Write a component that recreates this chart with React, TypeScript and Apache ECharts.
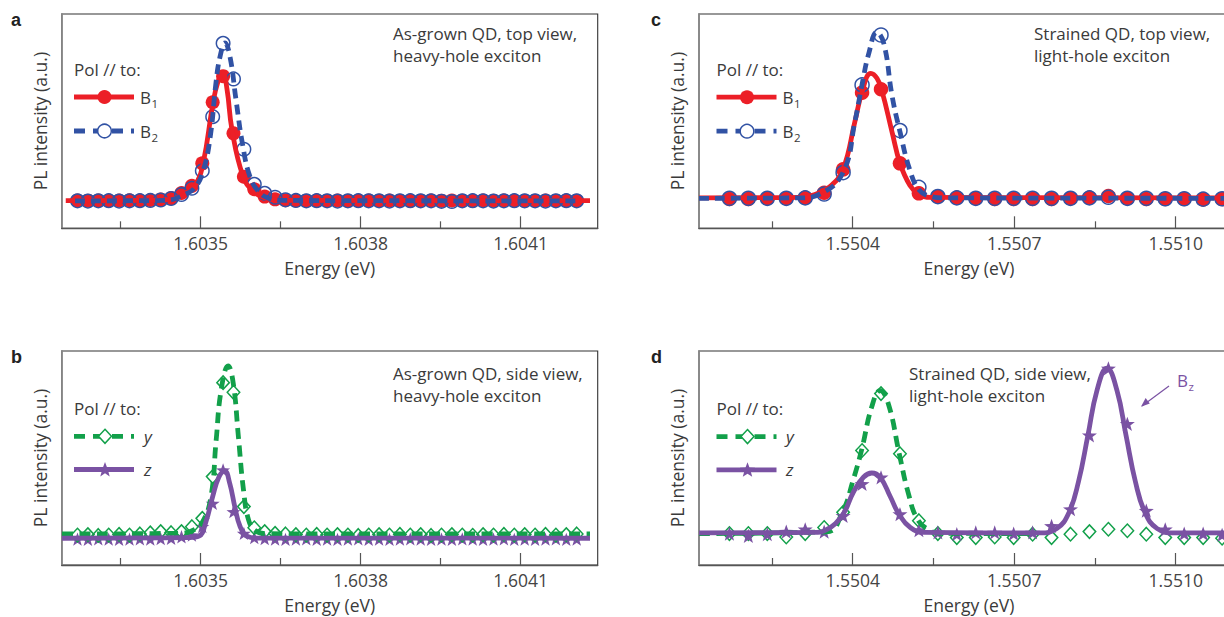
import React, { useEffect, useRef } from "react";
import * as echarts from "echarts";

// ---------- DATA ----------
const energyAB = [
  1.603269, 1.6032885, 1.603308, 1.6033275, 1.603347, 1.6033665, 1.603386, 1.6034055,
  1.603425, 1.6034445, 1.603464, 1.6034835, 1.603503, 1.6035225, 1.603542, 1.6035615,
  1.603581, 1.6036005, 1.60362, 1.6036395, 1.603659, 1.6036785, 1.603698, 1.6037175,
  1.603737, 1.6037565, 1.603776, 1.6037955, 1.603815, 1.6038345, 1.603854, 1.6038735,
  1.603893, 1.6039125, 1.603932, 1.6039515, 1.603971, 1.6039905, 1.60401, 1.6040295,
  1.604049, 1.6040685, 1.604088, 1.6041075, 1.604127, 1.6041465, 1.604166, 1.6041855,
  1.604205,
];
const energyCD = [
  1.550171, 1.5502062, 1.5502414, 1.5502766, 1.5503118, 1.550347, 1.5503822, 1.5504174,
  1.5504526, 1.5504878, 1.550523, 1.5505582, 1.5505934, 1.5506286, 1.5506638, 1.550699,
  1.5507342, 1.5507694, 1.5508046, 1.5508398, 1.550875, 1.5509102, 1.5509454, 1.5509806,
  1.5510158, 1.551051, 1.5510862,
];

// panel a: as-grown QD, top view
const aB1 = [
  13.0, 12.9, 13.0, 12.9, 13.0, 13.1, 13.0, 13.2, 13.4, 14.1, 16.5, 19.8, 30.3, 58.8, 71.0, 44.3,
  24.1, 18.2, 14.8, 13.5, 13.1, 13.0, 12.9, 13.0, 12.9, 13.0, 12.8, 12.9, 13.0, 12.9, 13.0, 12.9,
  12.8, 12.9, 13.0, 12.9, 13.0, 12.9, 12.8, 13.0, 12.9, 13.0, 12.9, 12.8, 12.9, 13.0, 12.9, 13.0,
  12.9,
];
const aB2 = [
  12.8, 12.7, 12.8, 12.9, 12.7, 12.8, 12.9, 13.0, 13.2, 13.9, 15.8, 18.7, 26.8, 52.1, 86.3, 69.7,
  36.9, 20.5, 16.3, 14.5, 13.3, 13.0, 12.8, 12.9, 12.8, 12.7, 12.8, 12.9, 12.8, 12.8, 12.7, 12.8,
  12.9, 12.8, 12.8, 12.6, 12.5, 12.8, 12.9, 12.8, 12.7, 12.8, 12.9, 12.8, 12.8, 12.7, 12.8, 12.9,
  12.8,
];
const aB1Fit = [
  [1.603247, 12.9], [1.6034237, 13.1], [1.6034518, 14.0], [1.6034706, 16.3], [1.6034893, 20.0],
  [1.6035043, 30.0], [1.6035231, 58.5], [1.6035325, 68.5], [1.6035413, 72.5], [1.6035493, 65.0],
  [1.6035587, 46.0], [1.6035793, 24.3], [1.6035981, 17.5], [1.6036206, 14.2], [1.6036487, 13.1],
  [1.60423, 12.9],
];
const aB2Fit = [
  [1.6032643, 12.8], [1.6034331, 13.0], [1.6034706, 15.8], [1.6034893, 19.0], [1.6035043, 26.5],
  [1.6035175, 42.0], [1.6035287, 68.0], [1.6035362, 80.0], [1.6035456, 86.5], [1.603555, 80.0],
  [1.6035662, 60.0], [1.6035793, 38.0], [1.6035925, 24.0], [1.6036075, 17.5], [1.6036262, 14.2],
  [1.6036581, 13.0], [1.6042112, 12.8],
];

// panel b: as-grown QD, side view
const bY = [
  14.0, 14.2, 13.8, 14.0, 14.3, 14.0, 14.5, 15.0, 15.6, 15.1, 15.6, 17.9, 21.8, 41.3, 85.2, 80.7,
  27.3, 17.4, 15.6, 14.8, 14.5, 14.2, 14.0, 14.3, 14.0, 14.2, 14.0, 13.8, 14.0, 14.2, 14.0, 14.3,
  14.0, 14.2, 13.8, 14.0, 14.2, 14.0, 13.9, 14.2, 14.0, 14.3, 14.0, 14.2, 14.0, 14.3, 14.0, 14.2,
  14.5,
];
const bZ = [
  12.1, 12.0, 12.2, 12.1, 12.0, 12.1, 12.2, 12.1, 12.3, 12.5, 13.2, 14.0, 18.0, 28.8, 44.4, 24.9,
  14.8, 12.8, 12.3, 12.1, 12.0, 12.1, 12.2, 12.0, 12.1, 12.0, 12.1, 12.2, 12.0, 12.1, 12.0, 12.1,
  12.2, 12.1, 12.0, 12.1, 12.0, 12.2, 12.1, 12.0, 12.1, 12.2, 12.0, 12.1, 12.0, 12.1, 12.2, 12.0,
  12.1,
];
const bYFit = [
  [1.60324, 14.5], [1.6034582, 14.8], [1.6034839, 16.0], [1.6035032, 20.0], [1.6035193, 32.0],
  [1.6035289, 58.0], [1.6035385, 82.0], [1.6035514, 93.0], [1.603561, 85.0], [1.6035707, 60.0],
  [1.6035803, 35.0], [1.6035899, 21.0], [1.6036028, 16.0], [1.6036253, 14.6], [1.60423, 14.5],
];
const bZFit = [
  [1.60324, 12.5], [1.6034775, 12.8], [1.6034968, 13.5], [1.6035096, 20.0], [1.6035225, 32.0],
  [1.603534, 41.0], [1.603545, 44.0], [1.6035546, 38.0], [1.6035642, 27.0], [1.6035739, 18.0],
  [1.6035867, 13.5], [1.603606, 12.6], [1.60423, 12.5],
];

// panel c: strained QD, top view
const cB1 = [
  13.7, 13.7, 14.0, 14.0, 14.3, 16.6, 27.5, 63.3, 64.9, 30.3, 16.3, 14.8, 14.3, 14.0, 13.7, 13.7,
  13.7, 13.7, 14.0, 14.3, 15.1, 14.0, 13.7, 13.7, 13.7, 13.5, 13.7,
];
const cB2 = [
  14.0, 14.0, 14.0, 14.0, 14.2, 16.0, 26.0, 66.9, 90.2, 45.6, 19.1, 14.8, 14.2, 14.0, 14.0, 14.0,
  14.0, 14.0, 14.0, 14.2, 14.5, 14.0, 14.0, 13.8, 13.8, 13.6, 13.8,
];
const cB1Fit = [
  [1.5501145, 14.2], [1.5503021, 14.4], [1.55033, 15.8], [1.5503578, 19.5], [1.550382, 27.5],
  [1.5504043, 50.0], [1.5504173, 63.5], [1.5504336, 72.3], [1.5504451, 70.0], [1.5504544, 64.0],
  [1.550473, 45.0], [1.5504879, 30.3], [1.5505064, 20.0], [1.5505232, 15.8], [1.5505436, 14.4],
  [1.5511176, 14.2],
];
const cB2Fit = [
  [1.5501145, 14.0], [1.5503021, 14.2], [1.5503393, 16.0], [1.550382, 26.0], [1.5504043, 50.0],
  [1.5504173, 67.0], [1.5504303, 82.0], [1.5504448, 91.5], [1.5504581, 86.0], [1.550473, 62.0],
  [1.5504879, 45.0], [1.5505064, 27.0], [1.5505232, 18.0], [1.5505436, 15.0], [1.5505715, 14.2],
  [1.5511176, 14.0],
];

// panel d: strained QD, side view
const dY = [
  14.7, 14.7, 14.7, 13.1, 14.7, 17.5, 24.6, 53.5, 80.1, 52.0, 20.7, 14.7, 12.8, 12.8, 13.1, 12.8,
  14.4, 12.8, 14.4, 15.6, 16.7, 16.0, 14.4, 12.8, 12.8, 12.8, 12.5,
];
const dZ = [
  14.7, 13.6, 14.4, 15.6, 16.7, 15.6, 23.0, 37.9, 41.0, 23.8, 16.3, 15.2, 14.4, 15.2, 15.2, 14.7,
  15.2, 18.3, 26.1, 60.6, 91.9, 66.0, 25.4, 16.7, 14.7, 14.7, 14.1,
];
const dYFit = [
  [1.5501145, 14.7], [1.5503515, 15.5], [1.5503813, 25.0], [1.5504012, 40.0], [1.5504168, 54.0],
  [1.5504355, 74.0], [1.550451, 81.5], [1.5504666, 75.0], [1.5504865, 52.0], [1.5505039, 33.0],
  [1.5505213, 21.0], [1.5505444, 16.0], [1.550563, 14.8], [1.5507311, 14.7],
];
const dZFit = [
  [1.5501145, 15.0], [1.5503266, 15.2], [1.5503515, 16.5], [1.5503813, 23.5], [1.5504012, 34.0],
  [1.5504199, 41.0], [1.5504355, 43.0], [1.550451, 41.0], [1.5504697, 32.0], [1.5504865, 23.5],
  [1.550507, 17.5], [1.5505319, 15.2], [1.5507479, 15.0], [1.550779, 17.0], [1.5508014, 24.3],
  [1.5508194, 38.9], [1.5508369, 60.5], [1.5508537, 81.5], [1.5508723, 92.0], [1.550891, 81.5],
  [1.5509078, 60.5], [1.5509252, 38.9], [1.5509433, 24.3], [1.5509657, 17.0], [1.5509968, 15.0],
  [1.5511176, 15.0],
];

// tick labels
const majorTicksAB = [1.6035, 1.6038, 1.6041];
const minorTicksAB = [1.60335, 1.60365, 1.60395];
const majorTicksCD = [1.5504, 1.5507, 1.551];
const minorTicksCD = [1.55025, 1.55055, 1.55085];

// ---------- STYLE ----------
const FONT = "'Open Sans', 'Noto Sans', sans-serif";
const TXT = "#3a3a3a";
const RED = "#EC1F27";
const BLUE = "#3152A4";
const GREEN = "#12A04A";
const PURPLE = "#7A52A3";
const FS_AXIS = 17.5;
const FS_TXT = 17;
const STAR = "path://M0,-50 L11.8,-16.2 L47.6,-15.5 L19,6.2 L29.4,40.5 L0,20 L-29.4,40.5 L-19,6.2 L-47.6,-15.5 L-11.8,-16.2 Z";

const panels = [
  { left: 61.7, top: 14, width: 536, height: 214.3, min: 1.6032394, max: 1.6042444, major: majorTicksAB, minor: minorTicksAB },
  { left: 61.7, top: 351, width: 536, height: 214, min: 1.6032394, max: 1.6042444, major: majorTicksAB, minor: minorTicksAB },
  { left: 699, top: 14, width: 540, height: 214.3, min: 1.5501145, max: 1.5511176, major: majorTicksCD, minor: minorTicksCD },
  { left: 699, top: 351, width: 540, height: 214, min: 1.5501145, max: 1.5511176, major: majorTicksCD, minor: minorTicksCD },
];

function pairs(xs: number[], ys: number[]) {
  return xs.map((x, i) => [x, ys[i]]);
}

function lineS(idx: number, data: number[][], color: string, dash?: number[]) {
  return {
    type: "line",
    xAxisIndex: idx,
    yAxisIndex: idx,
    data,
    symbol: "none",
    showSymbol: false,
    smooth: 0.45,
    silent: true,
    lineStyle: { color, width: 4.8, type: dash || "solid", cap: "butt", join: "round" },
  };
}

function markS(idx: number, data: number[][], symbol: string, size: any, fill: string, stroke: string, bw: number) {
  return {
    type: "scatter",
    xAxisIndex: idx,
    yAxisIndex: idx,
    data,
    symbol,
    symbolSize: size,
    symbolKeepAspect: true,
    silent: true,
    itemStyle: { color: fill, borderColor: stroke, borderWidth: bw, opacity: 1 },
  };
}

function starPts(cx: number, cy: number, R: number) {
  const pts: number[][] = [];
  for (let i = 0; i < 10; i++) {
    const r = i % 2 === 0 ? R : R * 0.42;
    const a = -Math.PI / 2 + (i * Math.PI) / 5;
    pts.push([cx + r * Math.cos(a), cy + r * Math.sin(a)]);
  }
  return pts;
}

function txt(x: number, y: number, text: string, opts: any = {}) {
  return {
    type: "text",
    x,
    y,
    z: 100,
    silent: true,
    style: {
      text,
      fill: opts.fill || TXT,
      fontSize: opts.fontSize || FS_TXT,
      fontFamily: opts.fontFamily || FONT,
      fontWeight: opts.fontWeight || "normal",
      fontStyle: opts.fontStyle || "normal",
      lineHeight: opts.lineHeight,
      align: "left",
      verticalAlign: opts.va || "middle",
    },
  };
}

function hline(x1: number, x2: number, y: number, color: string, dash?: number[]) {
  return {
    type: "line",
    z: 100,
    silent: true,
    shape: { x1, y1: y, x2, y2: y },
    style: { stroke: color, lineWidth: 4.8, lineDash: dash || null, lineCap: "butt" },
  };
}

function buildGraphic() {
  const g: any[] = [];
  const LF = { fontWeight: "bold", fontSize: 18, fill: "#222", fontFamily: "'Liberation Sans', Arial, sans-serif" };
  g.push(txt(11, 20, "a", LF));
  g.push(txt(651, 20, "c", LF));
  g.push(txt(11, 357, "b", LF));
  g.push(txt(651, 357, "d", LF));

  // annotations
  g.push(txt(393, 22.3, "As-grown QD, top view,\nheavy-hole exciton", { va: "top", lineHeight: 22 }));
  g.push(txt(1034, 22.5, "Strained QD, top view,\nlight-hole exciton", { va: "top", lineHeight: 22 }));
  g.push(txt(393, 362.3, "As-grown QD, side view,\nheavy-hole exciton", { va: "top", lineHeight: 22 }));
  g.push(txt(909, 362.3, "Strained QD, side view,\nlight-hole exciton", { va: "top", lineHeight: 22 }));

  // legends a & c (B1/B2)
  const topLeg = [
    { x0: 74, y0: 69.5 },
    { x0: 716.5, y0: 69.7 },
  ];
  topLeg.forEach(({ x0, y0 }) => {
    g.push(txt(x0, y0, "Pol // to:"));
    const y1 = y0 + 27.5;
    const y2 = y0 + 61.5;
    const cx = x0 + 30.5;
    g.push(hline(x0, x0 + 60, y1, RED));
    g.push({ type: "circle", z: 101, silent: true, shape: { cx, cy: y1, r: 7 }, style: { fill: RED } });
    g.push(txt(x0 + 66, y1, "B"));
    g.push(txt(x0 + 77.5, y1 + 6, "1", { fontSize: 11.5 }));
    g.push(hline(x0, x0 + 60, y2, BLUE, [11, 8]));
    g.push({ type: "circle", z: 101, silent: true, shape: { cx, cy: y2, r: 6.8 }, style: { fill: "#fff", stroke: BLUE, lineWidth: 1.5 } });
    g.push(txt(x0 + 66, y2, "B"));
    g.push(txt(x0 + 77.5, y2 + 6, "2", { fontSize: 11.5 }));
  });

  // legends b & d (y/z)
  const botLeg = [
    { x0: 74, y0: 408.3, tx: 144 },
    { x0: 716.5, y0: 408.6, tx: 786 },
  ];
  botLeg.forEach(({ x0, y0, tx }) => {
    g.push(txt(x0, y0, "Pol // to:"));
    const y1 = y0 + 28;
    const y2 = y0 + 61.2;
    const cx = x0 + 31;
    g.push(hline(x0, x0 + 60, y1, GREEN, [11, 8]));
    g.push({
      type: "polygon", z: 101, silent: true,
      shape: { points: [[cx, y1 - 7], [cx + 6.5, y1], [cx, y1 + 7], [cx - 6.5, y1]] },
      style: { fill: "#fff", stroke: GREEN, lineWidth: 1.5 },
    });
    g.push(txt(tx, y1, "y", { fontStyle: "italic" }));
    g.push(hline(x0, x0 + 60, y2, PURPLE));
    g.push({ type: "polygon", z: 101, silent: true, shape: { points: starPts(cx, y2 + 0.5, 8) }, style: { fill: PURPLE } });
    g.push(txt(tx, y2, "z", { fontStyle: "italic" }));
  });

  // Bz annotation in panel d
  g.push(txt(1177, 380, "B", { fill: PURPLE }));
  g.push(txt(1188.5, 386.5, "z", { fill: PURPLE, fontSize: 11.5 }));
  g.push({ type: "line", z: 100, silent: true, shape: { x1: 1169, y1: 386, x2: 1142, y2: 406 }, style: { stroke: PURPLE, lineWidth: 1.2 } });
  g.push({
    type: "polygon", z: 100, silent: true,
    shape: { points: [[1141, 406.8], [1149.8, 403.6], [1145.6, 398.0]] },
    style: { fill: PURPLE },
  });
  return g;
}

function buildOption() {
  const grid: any[] = [];
  const xAxis: any[] = [];
  const yAxis: any[] = [];
  const nameStyle = { color: TXT, fontSize: FS_AXIS, fontFamily: FONT };
  panels.forEach((p, i) => {
    grid.push({
      left: p.left, top: p.top, width: p.width, height: p.height,
      show: true, borderColor: "#333", borderWidth: 1.1, backgroundColor: "rgba(0,0,0,0)",
      containLabel: false, outerBoundsMode: "none",
    });
    xAxis.push({
      type: "value", gridIndex: i, min: p.min, max: p.max, position: "bottom",
      axisLine: { show: true, onZero: false, lineStyle: { color: "#555", width: 1.4 } },
      axisTick: { show: true, inside: true, length: 12, customValues: p.major, lineStyle: { color: "#555", width: 1.2 } },
      minorTick: { show: false },
      axisLabel: { show: true, customValues: p.major, formatter: (v: number) => v.toFixed(4), color: "#444", fontSize: FS_AXIS, fontFamily: FONT, margin: 6 },
      splitLine: { show: false },
      name: "Energy (eV)", nameLocation: "middle", nameGap: 31, nameTextStyle: nameStyle,
    });
    yAxis.push({
      type: "value", gridIndex: i, min: 0, max: 100,
      axisLine: { show: true, onZero: false, lineStyle: { color: "#8a8a8a", width: 1.8 } },
      axisTick: { show: false }, axisLabel: { show: false }, splitLine: { show: false },
      name: "PL intensity (a.u.)", nameLocation: "middle", nameGap: 13, nameTextStyle: nameStyle,
    });
  });
  // extra grids carrying the minor ticks
  panels.forEach((p, i) => {
    grid.push({ left: p.left, top: p.top, width: p.width, height: p.height, show: false, containLabel: false, outerBoundsMode: "none" });
    xAxis.push({
      type: "value", gridIndex: 4 + i, min: p.min, max: p.max, position: "bottom",
      axisLine: { show: false },
      axisTick: { show: true, inside: true, length: 7, customValues: p.minor, lineStyle: { color: "#555", width: 1.2 } },
      axisLabel: { show: false }, splitLine: { show: false },
    });
    yAxis.push({ type: "value", gridIndex: 4 + i, min: 0, max: 100, show: false });
  });

  const series: any[] = [
    // a
    lineS(0, aB1Fit, RED),
    markS(0, pairs(energyAB, aB1), "circle", 14, RED, RED, 0),
    lineS(0, aB2Fit, BLUE, [10, 6]),
    markS(0, pairs(energyAB, aB2), "circle", 13.5, "rgba(0,0,0,0)", BLUE, 1.5),
    // b
    lineS(1, bYFit, GREEN, [11, 6.5]),
    lineS(1, bZFit, PURPLE),
    markS(1, pairs(energyAB, bZ), STAR, 14, PURPLE, PURPLE, 0),
    markS(1, pairs(energyAB, bY), "diamond", [12.5, 13.5], "rgba(0,0,0,0)", GREEN, 1.5),
    // c
    lineS(2, cB1Fit, RED),
    markS(2, pairs(energyCD, cB1), "circle", 14.5, RED, RED, 0),
    lineS(2, cB2Fit, BLUE, [10, 6]),
    markS(2, pairs(energyCD, cB2), "circle", 14, "rgba(0,0,0,0)", BLUE, 1.5),
    // d
    lineS(3, dYFit, GREEN, [11, 6.5]),
    markS(3, pairs(energyCD, dY), "diamond", [12.5, 13.5], "rgba(0,0,0,0)", GREEN, 1.5),
    lineS(3, dZFit, PURPLE),
    markS(3, pairs(energyCD, dZ), STAR, 15, PURPLE, PURPLE, 0),
  ];

  return {
    animation: false,
    backgroundColor: "#fff",
    textStyle: { fontFamily: FONT },
    grid,
    xAxis,
    yAxis,
    series,
    graphic: buildGraphic(),
  };
}

export default function App() {
  const ref = useRef<HTMLDivElement>(null);
  useEffect(() => {
    const chart = echarts.init(ref.current!, null, { renderer: "svg" });
    chart.setOption(buildOption() as any);
    return () => chart.dispose();
  }, []);
  return (
    <div
      ref={ref}
      style={{ position: "fixed", left: 0, top: 0, width: 1224, height: 617, background: "#fff" }}
    />
  );
}
